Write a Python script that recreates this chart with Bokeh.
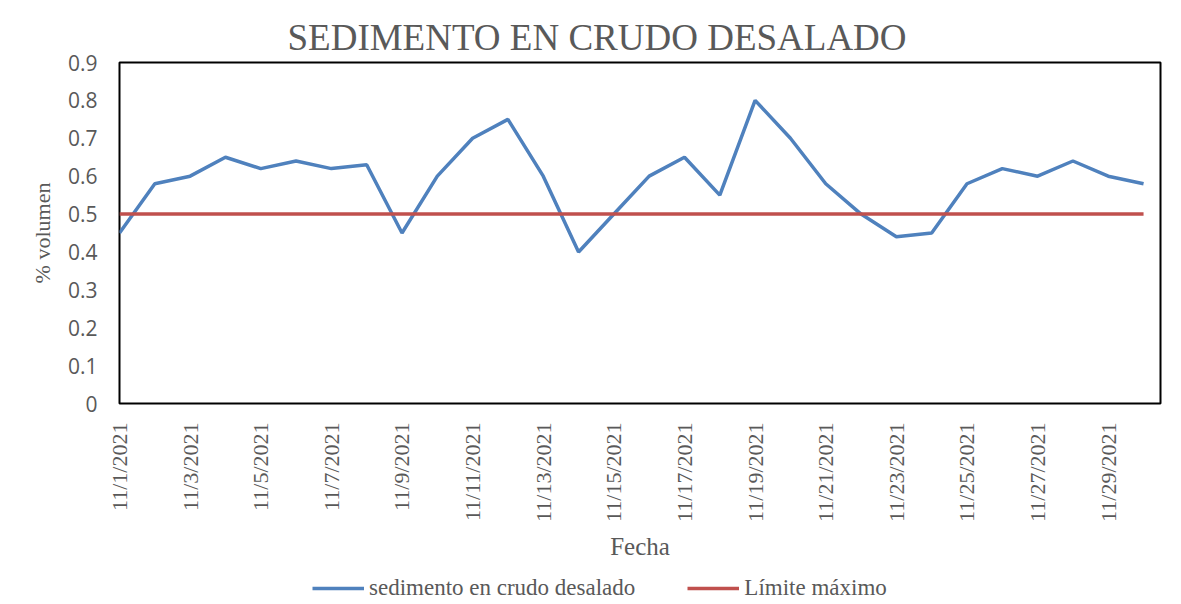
from bokeh.plotting import figure
from bokeh.layouts import column
from bokeh.models import Range1d, FixedTicker, Legend, LegendItem, CustomJSTickFormatter, ColumnDataSource
from bokeh.embed import file_html
from bokeh.resources import INLINE

fechas = ["11/1/2021", "11/2/2021", "11/3/2021", "11/4/2021", "11/5/2021", "11/6/2021",
          "11/7/2021", "11/8/2021", "11/9/2021", "11/10/2021", "11/11/2021", "11/12/2021",
          "11/13/2021", "11/14/2021", "11/15/2021", "11/16/2021", "11/17/2021", "11/18/2021",
          "11/19/2021", "11/20/2021", "11/21/2021", "11/22/2021", "11/23/2021", "11/24/2021",
          "11/25/2021", "11/26/2021", "11/27/2021", "11/28/2021", "11/29/2021", "11/30/2021"]
sedimento = [0.45, 0.58, 0.60, 0.65, 0.62, 0.64, 0.62, 0.63, 0.45, 0.60,
             0.70, 0.75, 0.60, 0.40, 0.50, 0.60, 0.65, 0.55, 0.80, 0.70,
             0.58, 0.50, 0.44, 0.45, 0.58, 0.62, 0.60, 0.64, 0.60, 0.58]
limite = [0.5] * len(fechas)
y_ticks = [0, 0.1, 0.2, 0.3, 0.4, 0.5, 0.6, 0.7, 0.8, 0.9]

idx = list(range(len(fechas)))
src = ColumnDataSource(dict(x=idx, fecha=fechas, sed=sedimento, lim=limite))

GRAY = "#595959"
BLUE = "#4F81BD"
RED = "#C0504D"

p = figure(frame_width=1041, frame_height=341, output_backend="svg", toolbar_location=None,
           x_range=Range1d(0, 29.48), y_range=Range1d(0, 0.9),
           min_border_left=119, min_border_right=13, min_border_top=62, min_border_bottom=170,
           background_fill_color="white", border_fill_color="white")

p.title.text = "SEDIMENTO EN CRUDO DESALADO"
p.title.text_font = "Liberation Serif"
p.title.text_font_size = "37px"
p.title.text_font_style = "normal"
p.title.text_color = GRAY
p.title.align = "left"
p.title.offset = 168

p.xgrid.visible = False
p.ygrid.visible = False
p.outline_line_color = "black"
p.outline_line_width = 2
p.outline_line_alpha = 1

p.line("x", "sed", source=src, line_color=BLUE, line_width=3.5)
p.line("x", "lim", source=src, line_color=RED, line_width=3.5)

# x axis
tick_pos = idx[::2]
p.xaxis.ticker = FixedTicker(ticks=tick_pos)
p.xaxis.major_label_overrides = {i: fechas[i] for i in tick_pos}
p.xaxis.major_label_orientation = 1.5707963
p.xaxis.major_label_text_font = "Liberation Serif"
p.xaxis.major_label_text_font_size = "22px"
p.xaxis.major_label_text_color = GRAY
p.xaxis.major_label_standoff = 19
p.xaxis.major_tick_out = 0
p.xaxis.major_tick_in = 0
p.xaxis.major_tick_line_color = None
p.xaxis.minor_tick_line_color = None
p.xaxis.axis_line_color = None
p.xaxis.axis_label = "Fecha"
p.xaxis.axis_label_text_font = "Liberation Serif"
p.xaxis.axis_label_text_font_size = "25px"
p.xaxis.axis_label_text_font_style = "normal"
p.xaxis.axis_label_text_color = GRAY
p.xaxis.axis_label_standoff = 8

# y axis
p.yaxis.ticker = FixedTicker(ticks=y_ticks)
p.yaxis.formatter = CustomJSTickFormatter(code="return String(Math.round(tick*10)/10);")
p.yaxis.major_label_text_font = "Open Sans"
p.yaxis.major_label_text_font_size = "21px"
p.yaxis.major_label_text_color = GRAY
p.yaxis.major_label_standoff = 22
p.yaxis.major_tick_out = 0
p.yaxis.major_tick_in = 0
p.yaxis.major_tick_line_color = None
p.yaxis.minor_tick_line_color = None
p.yaxis.axis_line_color = None
p.yaxis.axis_label = "% volumen"
p.yaxis.axis_label_text_font = "Liberation Serif"
p.yaxis.axis_label_text_font_size = "22px"
p.yaxis.axis_label_text_font_style = "normal"
p.yaxis.axis_label_text_color = GRAY
p.yaxis.axis_label_standoff = 10

# legend strip (separate figure so that the legend is not clipped)
lf = figure(width=1173, height=30, output_backend="svg", toolbar_location=None,
            x_range=Range1d(100, 101), y_range=Range1d(100, 101),
            x_axis_type=None, y_axis_type=None,
            min_border_left=0, min_border_right=0, min_border_top=0, min_border_bottom=0,
            background_fill_color="white", border_fill_color="white")
lf.outline_line_color = None
lf.xgrid.visible = False
lf.ygrid.visible = False
r1 = lf.line("x", "sed", source=src, line_color=BLUE, line_width=3.5)
r2 = lf.line("x", "lim", source=src, line_color=RED, line_width=3.5)

legend = Legend(items=[LegendItem(label="sedimento en crudo desalado", renderers=[r1]),
                       LegendItem(label="Límite máximo", renderers=[r2])],
                orientation="horizontal", location=(193, 2),
                label_text_font="Liberation Serif", label_text_font_size="23px",
                label_text_color=GRAY, glyph_width=52, glyph_height=20, label_height=20,
                label_standoff=5, spacing=52, padding=0, margin=0,
                border_line_color=None, background_fill_alpha=0)
lf.add_layout(legend, "center")

layout = column(p, lf, spacing=0)
open("out.html", "w").write(file_html(layout, INLINE))
